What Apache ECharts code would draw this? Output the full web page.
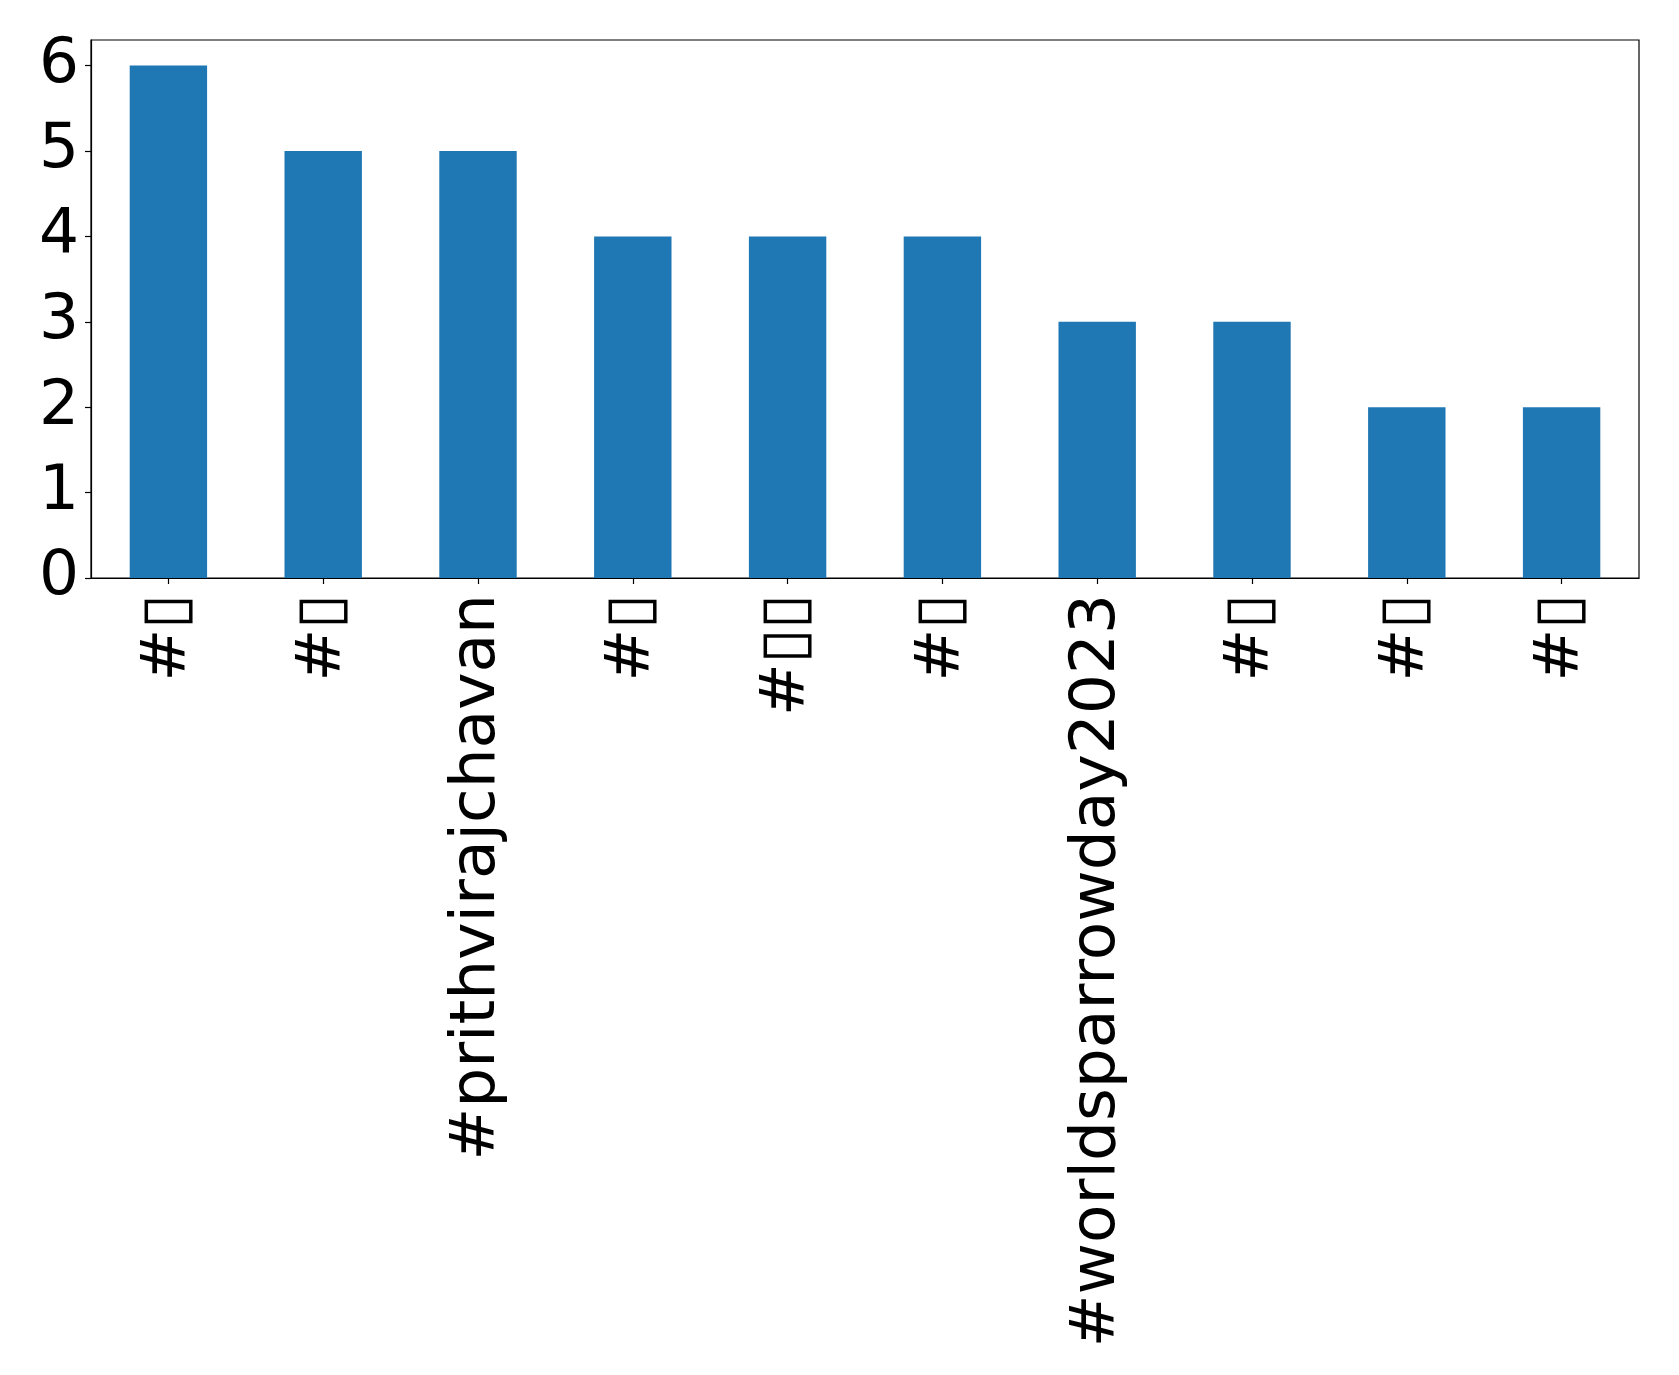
<!DOCTYPE html>
<html>
<head>
<meta charset="utf-8">
<script src="https://cdn.jsdelivr.net/npm/echarts@6/dist/echarts.min.js"></script>
<style>html,body{margin:0;padding:0;background:#fff}#c{width:1679px;height:1375px}</style>
</head>
<body>
<div id="c"></div>
<script>
var categories = ["#\u25AF", "#\u25AF", "#prithvirajchavan", "#\u25AF", "#\u25AF\u25AF", "#\u25AF", "#worldsparrowday2023", "#\u25AF", "#\u25AF", "#\u25AF"];
var counts = [6, 5, 5, 4, 4, 4, 3, 3, 2, 2];
var yTicks = [0, 1, 2, 3, 4, 5, 6];

var chart = echarts.init(document.getElementById('c'), null, {renderer: 'canvas'});
chart.setOption({
  animation: false,
  backgroundColor: '#ffffff',
  grid: {left: 91, right: 40, top: 40, bottom: 797, show: true, borderColor: '#000', borderWidth: 1.2, backgroundColor: 'transparent'},
  xAxis: {
    type: 'category',
    data: categories,
    boundaryGap: true,
    axisLine: {show: true, lineStyle: {color: '#000', width: 1.2}},
    axisTick: {show: true, alignWithLabel: true, length: 6, lineStyle: {color: '#000', width: 1.2}},
    axisLabel: {rotate: 90, interval: 0, margin: 16, fontSize: 63, color: '#000', fontFamily: 'DejaVu Sans'},
    splitLine: {show: false}
  },
  yAxis: {
    type: 'value',
    min: 0,
    max: 6.3,
    interval: 1,
    axisLine: {show: true, lineStyle: {color: '#000', width: 1.2}},
    axisTick: {show: true, length: 6, lineStyle: {color: '#000', width: 1.2}},
    axisLabel: {showMaxLabel: false, margin: 12, fontSize: 63, color: '#000', fontFamily: 'DejaVu Sans',
      formatter: function (v) { return yTicks.indexOf(v) >= 0 ? String(v) : ''; }},
    splitLine: {show: false}
  },
  series: [{
    type: 'bar',
    data: counts,
    barWidth: '50%',
    itemStyle: {color: '#1f77b4'}
  }]
});
</script>
</body>
</html>
